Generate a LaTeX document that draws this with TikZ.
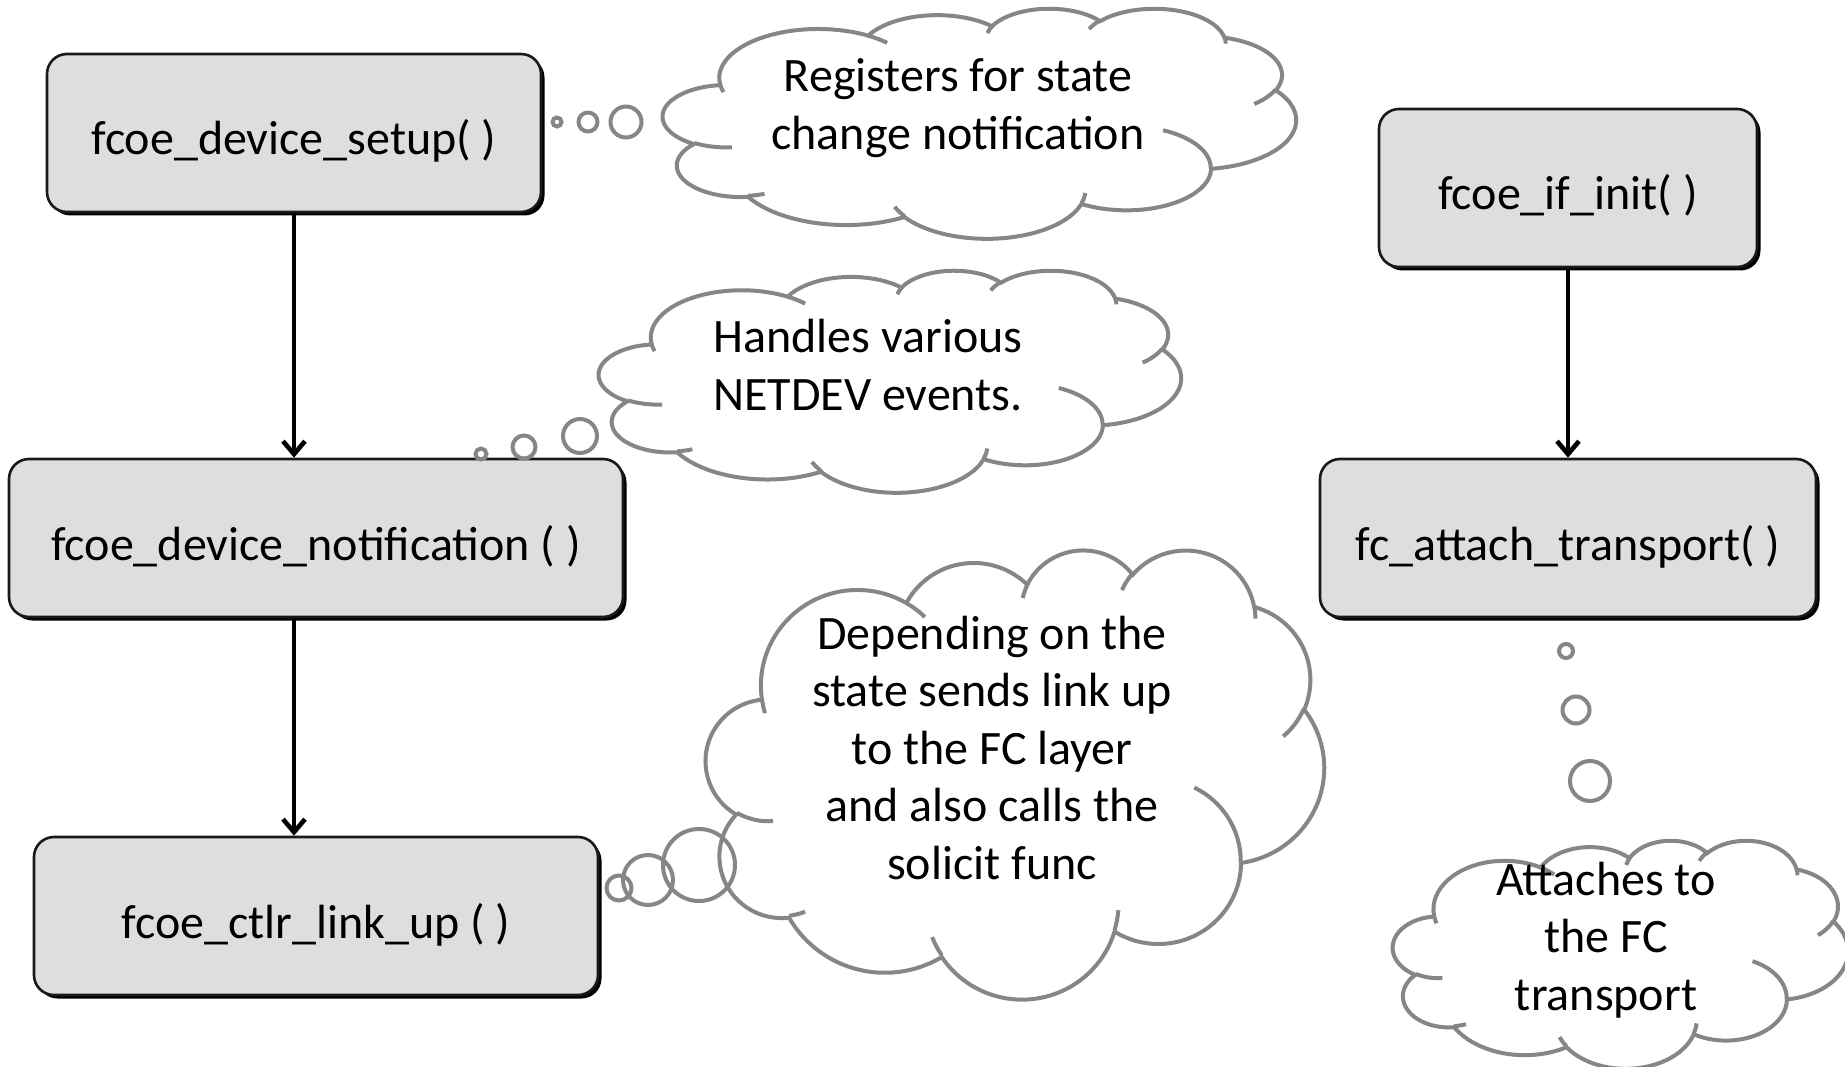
\documentclass[tikz,border=0pt]{standalone}
\usepackage{fontspec}
\setmainfont{Carlito}
\usetikzlibrary{arrows.meta,shadows}

\definecolor{boxfill}{RGB}{222,222,222}
\definecolor{cloudgray}{RGB}{134,134,134}

\tikzset{
  fnbox/.style={draw=black!90, line width=2.6pt, fill=boxfill,
    rounded corners=20pt, minimum height=158pt, inner sep=0pt,
    text height=44pt, text depth=0pt,
    font=\fontsize{48}{58}\selectfont,
    drop shadow={shadow xshift=3.5pt, shadow yshift=-3.5pt, opacity=1, fill=black}},
  calltext/.style={align=center, inner sep=0pt, font=\fontsize{48}{57.5}\selectfont},
  flow/.style={line width=4.6pt, -{Straight Barb[length=13pt, width=22pt]}},
  cloudline/.style={draw=cloudgray, line width=4pt},
  % elliptical arc given by radii and a start/sweep angle measured visually
  oarc/.style n args={4}{insert path={arc[x radius=#1, y radius=#2,
    start angle={atan2((#1)*sin(#3),(#2)*cos(#3))},
    delta angle={mod(atan2((#1)*sin((#3)+(#4)),(#2)*cos((#3)+(#4)))-atan2((#1)*sin(#3),(#2)*cos(#3))+720,360)}]}},
}

% cloud outline in a 432 x 432 frame: left, top, width, height
\newcommand\thoughtcloud[4]{%
  \begin{scope}[shift={(#1,#2)}, xscale=#3/432, yscale=#4/432]
    \draw[cloudline, fill=white] (39.00,143.70)
      [oarc={67.53}{91.90}{-190.4875}{123.7805}]
      [oarc={53.33}{72.67}{-144.1024}{89.9452}]
      [oarc={43.65}{59.45}{-145.8079}{99.7230}]
      [oarc={48.57}{65.95}{-130.9861}{117.2417}]
      [oarc={53.33}{72.73}{-78.7089}{109.0269}]
      [oarc={67.75}{92.20}{-46.2673}{130.2690}]
      [oarc={57.85}{78.67}{0.6250}{114.0333}]
      [oarc={67.52}{92.15}{22.4516}{115.1726}]
      [oarc={77.20}{105.43}{66.2426}{75.7110}]
      [oarc={43.60}{59.18}{-274.9421}{146.7356}]
      [oarc={43.45}{59.45}{-246.8285}{152.5189}]
      -- cycle;
    \draw[cloudline, line cap=butt]
      (46.93,261.77) [oarc={43.45}{59.45}{86.7420}{26.4295}]
      (69.28,348.99) [oarc={43.60}{59.18}{73.6105}{11.4475}]
      (164.78,390.90) [oarc={67.52}{92.15}{137.6242}{14.0811}]
      (288.27,347.51) [oarc={67.52}{92.15}{6.4533}{15.9984}]
      (341.29,229.54) [oarc={57.85}{78.67}{-70.2924}{70.9174}]
      (417.98,153.54) [oarc={53.33}{72.73}{30.3180}{27.7515}]
      (383.24,54.26) [oarc={48.57}{65.95}{-13.7443}{14.8589}]
      (290.78,39.52) [oarc={48.57}{65.95}{-149.1815}{18.1954}]
      (221.41,47.20) [oarc={43.65}{59.45}{-163.4943}{17.6864}]
      (140.00,51.92) [oarc={67.53}{91.90}{-66.7070}{12.3194}]
      (41.27,157.89) [oarc={67.53}{91.90}{157.6544}{11.8582}];
  \end{scope}}

\begin{document}
\begin{tikzpicture}[x=1pt, y=-1pt]
  \useasboundingbox (0,0) rectangle (1845,1067);
  \clip (0,0) rectangle (1845,1067);

  % function boxes
  \node[fnbox, minimum width=494pt] (b1) at (294,133) {fcoe\_device\_setup( )};
  \node[fnbox, minimum width=614pt] (b2) at (316,538) {fcoe\_device\_notification ( )};
  \node[fnbox, minimum width=564pt] (b3) at (316,916) {fcoe\_ctlr\_link\_up ( )};
  \node[fnbox, minimum width=378pt] (b4) at (1568,188) {fcoe\_if\_init( )};
  \node[fnbox, minimum width=496pt] (b5) at (1568,538) {fc\_attach\_transport( )};

  % call flow
  \draw[flow] (b1.south) -- (b1.south |- b2.north);
  \draw[flow] (b2.south -| b1.south) -- (b3.north -| b1.south);
  \draw[flow] (b4.south) -- (b5.north);

  % thought clouds
  \thoughtcloud{663}{8}{633}{230}
  \thoughtcloud{599}{270}{582}{222}
  \thoughtcloud{706}{549}{618}{449}
  \thoughtcloud{1393}{840}{455}{228}

  % thought bubbles
  \draw[cloudline] (557,122) circle[radius=4.5] (588,122) circle[radius=9.5] (626,122) circle[radius=15.5];
  \draw[cloudline] (481,454) circle[radius=5.5] (524,447) circle[radius=11.5] (580,436) circle[radius=17];
  \draw[cloudline] (619,888) circle[radius=12.5] (648,880) circle[radius=25] (699,865) circle[radius=36];
  \draw[cloudline] (1566,651) circle[radius=7] (1576,710) circle[radius=13.5] (1590,781) circle[radius=20];

  % cloud texts
  \node[calltext] (t1) at (958,108) {Registers for state\\change notification};
  \node[calltext] (t2) at (868,365) {Handles various\\NETDEV events.};
  \node[calltext] (t3) at (992,748) {Depending on the\\state sends link up\\to the FC layer\\and also calls the\\solicit func};
  \node[calltext] (t4) at (1606,940) {Attaches to\\the FC\\transport};
\end{tikzpicture}
\end{document}
